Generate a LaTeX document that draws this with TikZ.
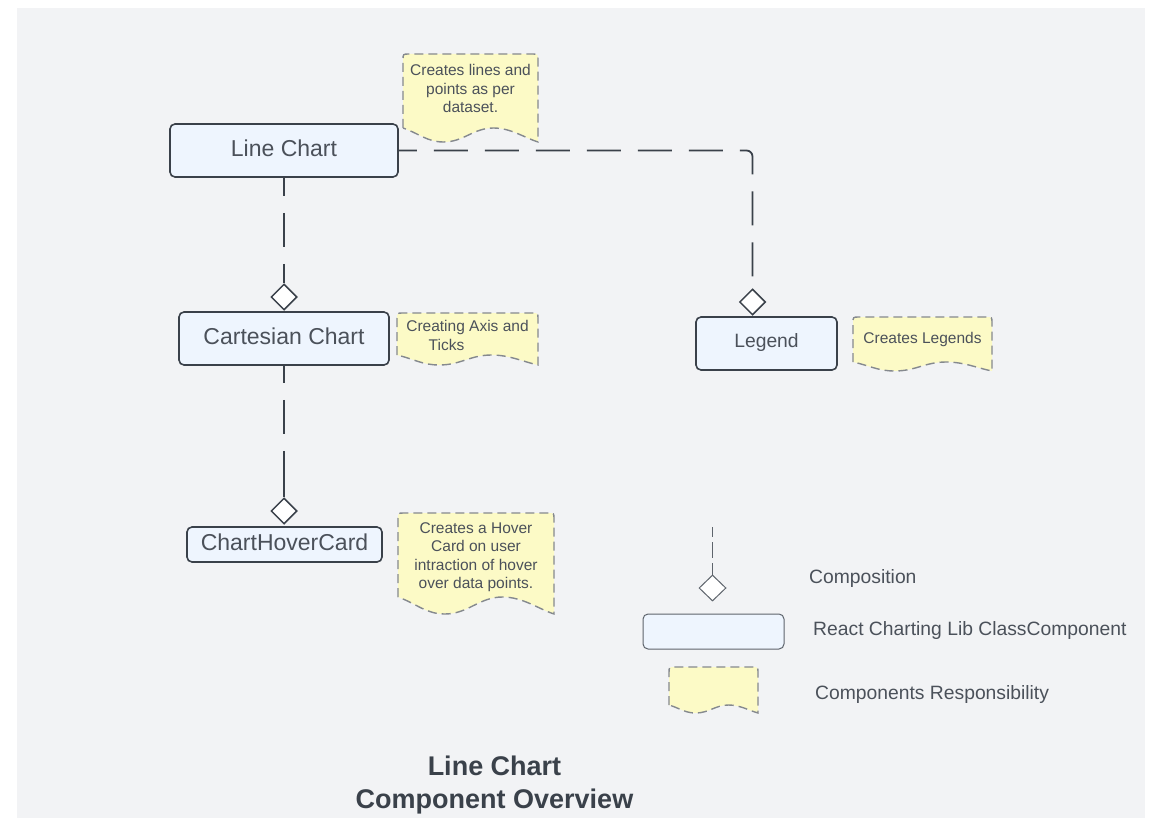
\documentclass[tikz,border=0pt]{standalone}
\usepackage{fontspec}
\setmainfont{Liberation Sans}
\usetikzlibrary{shapes.geometric}
\definecolor{bgc}{HTML}{F2F3F5}
\definecolor{boxfill}{HTML}{EEF5FE}
\definecolor{ink}{HTML}{3A414A}
\definecolor{txt}{HTML}{4B515A}
\definecolor{notefill}{HTML}{FCFAC6}
\definecolor{notedraw}{HTML}{85898E}
\definecolor{lgline}{HTML}{5E646C}
\newcommand\docnote[5]{%
  \draw[notestyle] (#1,{#4-#5}) -- (#1,{#2+6}) .. controls (#1,#2) .. ({#1+6},#2)
    -- ({#3-6},#2) .. controls (#3,#2) .. (#3,{#2+6}) -- (#3,#4)
    .. controls ({#1+0.9*(#3-#1)},{#4-0.3*#5}) and ({#1+0.8*(#3-#1)},{#4-#5}) .. ({#1+0.67*(#3-#1)},{#4-#5})
    .. controls ({#1+0.52*(#3-#1)},{#4-#5}) and ({#1+0.45*(#3-#1)},#4) .. ({#1+0.3*(#3-#1)},#4)
    .. controls ({#1+0.18*(#3-#1)},#4) and ({#1+0.12*(#3-#1)},{#4-0.6*#5}) .. (#1,{#4-#5}) -- cycle;}
\tikzset{
  comp/.style={draw=ink, fill=boxfill, line width=1.6pt, rounded corners=5pt, text=txt,
    font=\fontsize{23}{27}\selectfont, text height=16.5pt, text depth=5pt, inner sep=0pt},
  dia/.style={diamond, draw=ink, fill=white, line width=1.5pt, minimum width=26pt,
    minimum height=26pt, inner sep=0pt},
  conn/.style={draw=ink, line width=1.8pt, dash pattern=on 34pt off 17pt, dash phase=16pt},
  solidconn/.style={draw=ink, line width=1.8pt},
  notestyle/.style={draw=notedraw, fill=notefill, line width=1.4pt, dash pattern=on 9pt off 5pt},
  notetext/.style={text=txt, font=\fontsize{15.5}{18.5}\selectfont, align=center, inner sep=0pt},
  lgtext/.style={text=txt, font=\fontsize{19.3}{23}\selectfont, anchor=west, inner sep=0pt,
    text height=13.8pt, text depth=0pt},
  titletext/.style={text=ink, font=\fontsize{27}{33}\selectfont\bfseries, align=center, inner sep=0pt}
}
\begin{document}
\begin{tikzpicture}[x=1pt,y=-1pt]
\useasboundingbox (0,0) rectangle (1150,826);
\fill[white] (0,0) rectangle (1150,826);
\fill[bgc] (17,8) rectangle (1145,818);

% notes
\docnote{403}{54}{538}{142}{14}
\node[notetext] (n1) at (470.5,88.5) {Creates lines and\\points as per\\dataset.};
\docnote{397}{313}{538}{365}{10}
\node[notetext] (n2) at (467.5,335.5) {Creating Axis and\\Ticks\rule{42pt}{0pt}};
\docnote{398}{513}{554}{614}{17}
\node[notetext] (n3) at (476,557) {Creates a Hover\\Card on user\\intraction of hover\\over data points.};
\docnote{853}{317}{992}{371}{9}
\node[notetext, text height=11.1pt, text depth=0pt] (n4) at (922.5,338) {Creates Legends};

% components
\node[comp, minimum width=228pt, minimum height=53pt] (lc) at (284,150.5) {Line Chart};
\node[comp, minimum width=210pt, minimum height=53pt] (cc) at (284,338.5) {Cartesian Chart};
\node[comp, minimum width=195pt, minimum height=35pt] (hc) at (284.5,544.5) {ChartHoverCard};
\node[comp, minimum width=141pt, minimum height=53pt, font=\fontsize{19.3}{23}\selectfont,
      text height=13.8pt] (lg) at (766.5,343.5) {Legend};

% diamonds
\node[dia] (d1) at (284,297) {};
\node[dia] (d2) at (284,511) {};
\node[dia] (d3) at (752.5,302) {};

% connectors
\draw[conn] (lc.south) -- (d1.north);
\draw[conn, rounded corners=6pt] (lc.east) -| (d3.north);
\coordinate (j) at (284,463);
\draw[conn, dash phase=17pt] (cc.south) -- (j);
\draw[solidconn] (j) -- (d2.north);

% key
\coordinate (kt) at (712.5,527);
\node[diamond, draw=lgline, fill=white, line width=1pt, minimum width=27pt, minimum height=26pt,
      inner sep=0pt] (d4) at (712.5,588) {};
\draw[draw=lgline, line width=1pt, dash pattern=on 16pt off 5pt, dash phase=6pt] (kt) -- (d4.north);
\node[draw=lgline, fill=boxfill, line width=1pt, rounded corners=5pt, minimum width=141pt,
      minimum height=35pt, inner sep=0pt] (kr) at (713.5,631.5) {};
\docnote{669}{667}{758}{713}{8}
\node[lgtext] (k1) at (809,577) {Composition};
\node[lgtext] (k2) at (813,629) {React Charting Lib ClassComponent};
\node[lgtext] (k3) at (815,693) {Components Responsibility};

% title
\node[titletext] (title) at (494.5,785.5) {Line Chart\\Component Overview};
\end{tikzpicture}
\end{document}
